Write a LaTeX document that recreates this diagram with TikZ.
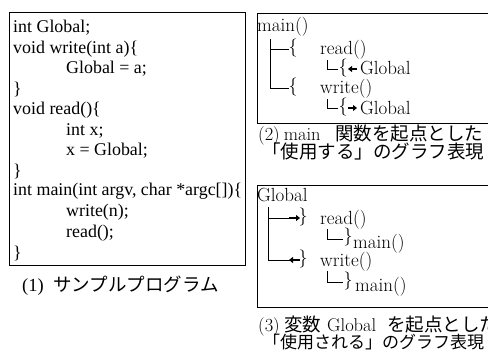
\documentclass[tikz,border=0pt]{standalone}
\usepackage{fontspec}
\newfontfamily\timesf{Liberation Serif}
\newfontfamily\jpf{Noto Sans CJK JP}
\usetikzlibrary{arrows.meta}
\tikzset{
  box/.style={draw, line width=0.9pt},
  code/.style={anchor=base west, inner sep=0pt, font=\timesf\fontsize{17.9}{20}\selectfont},
  tr/.style={anchor=base west, inner sep=0pt, font=\fontsize{19}{20}\selectfont},
  br/.style={anchor=center, inner sep=0pt, font=\fontsize{18}{20}\selectfont},
  captxt/.style={anchor=base west, inner sep=0pt, font=\fontsize{18.5}{20}\selectfont},
  capjp/.style={anchor=base west, inner sep=0pt, font=\jpf\fontsize{18.5}{20}\selectfont},
  tline/.style={line width=0.8pt},
  fat/.style={line width=1.8pt, -{Triangle[length=4pt,width=6pt]}},
}
\begin{document}
\begin{tikzpicture}[x=1pt,y=-1pt]
\useasboundingbox (0,0) rectangle (488,353);
\clip (0,0) rectangle (488,353);
\fill[white] (0,0) rectangle (488,353);
% ---- (1) program box
\draw[box] (9,12) rectangle (245,265);
\node[code] (c1)  at (13,33)    {int Global;};
\node[code] (c2)  at (13,53.5)  {void write(int a)\{};
\node[code] (c3)  at (66,74)    {Global = a;};
\node[code] (c4)  at (13,94.5)  {\}};
\node[code] (c5)  at (13,115)   {void read()\{};
\node[code] (c6)  at (66,135.5) {int x;};
\node[code] (c7)  at (66,156)   {x = Global;};
\node[code] (c8)  at (13,176.5) {\}};
\node[code] (c9)  at (13,196)   {int main(int argv, char *argc[])\{};
\node[code] (c10) at (66,216.5) {write(n);};
\node[code] (c11) at (66,237)   {read();};
\node[code] (c12) at (13,258)   {\}};
\node[code, font=\timesf\fontsize{18.5}{20}\selectfont] (cap1n) at (22,291) {(1)};
\node[capjp] (cap1) at (53,291) {サンプルプログラム};
% ---- (2) box
\draw[box] (257,13) rectangle (520,123);
\node[tr] (m0) at (257,32) {main()};
\draw[tline] (270,39) -- (270,88) -- (289,88);
\draw[tline] (270,49) -- (289,49);
\node[br] (b1) at (293,48) {\{};
\node[tr] (r1) at (320,55) {read()};
\draw[tline] (327,60) -- (327,69) -- (338,69);
\node[br] (b2) at (343,68) {\{};
\draw[fat] (357,69) -- (348,69);
\node[tr] (g1) at (360,75) {Global};
\node[br] (b3) at (293,87) {\{};
\node[tr] (w1) at (320,94) {write()};
\draw[tline] (327,99) -- (327,108) -- (338,108);
\node[br] (b4) at (343,107) {\{};
\draw[fat] (348,108) -- (357,108);
\node[tr] (g2) at (360,114) {Global};
\node[captxt] (cap2n) at (258,141) {(2)\hspace{4pt}main};
\node[capjp] (cap2a) at (335,141) {関数を起点とした};
\node[capjp] (cap2b) at (262,158) {「使用する」のグラフ表現};
% ---- (3) box
\draw[box] (257,185) rectangle (520,307);
\node[tr] (g0) at (257,201) {Global};
\draw[tline] (268,207) -- (268,260) -- (290,260);
\draw[tline] (268,218) -- (290,218);
\draw[fat] (289,218) -- (300,218);
\node[br] (b5) at (303,217) {\}};
\node[tr] (r2) at (320,224) {read()};
\draw[tline] (327,229) -- (327,239) -- (343,239);
\node[br] (b6) at (348,237) {\}};
\node[tr] (m1) at (353,248) {main()};
\draw[fat] (300,260) -- (289,260);
\node[br] (b7) at (303,259) {\}};
\node[tr] (w2) at (320,266) {write()};
\draw[tline] (327,271) -- (327,282) -- (343,282);
\node[br] (b8) at (348,281) {\}};
\node[tr] (m2) at (355,291) {main()};
\node[captxt] (cap3n) at (258,331) {(3)};
\node[capjp] (cap3v) at (284,331) {変数};
\node[captxt] (cap3g) at (327,331) {Global};
\node[capjp] (cap3a) at (387,331) {を起点とした};
\node[capjp, font=\jpf\fontsize{17}{20}\selectfont] (cap3b) at (263,348) {「使用される」のグラフ表現};
\end{tikzpicture}
\end{document}
